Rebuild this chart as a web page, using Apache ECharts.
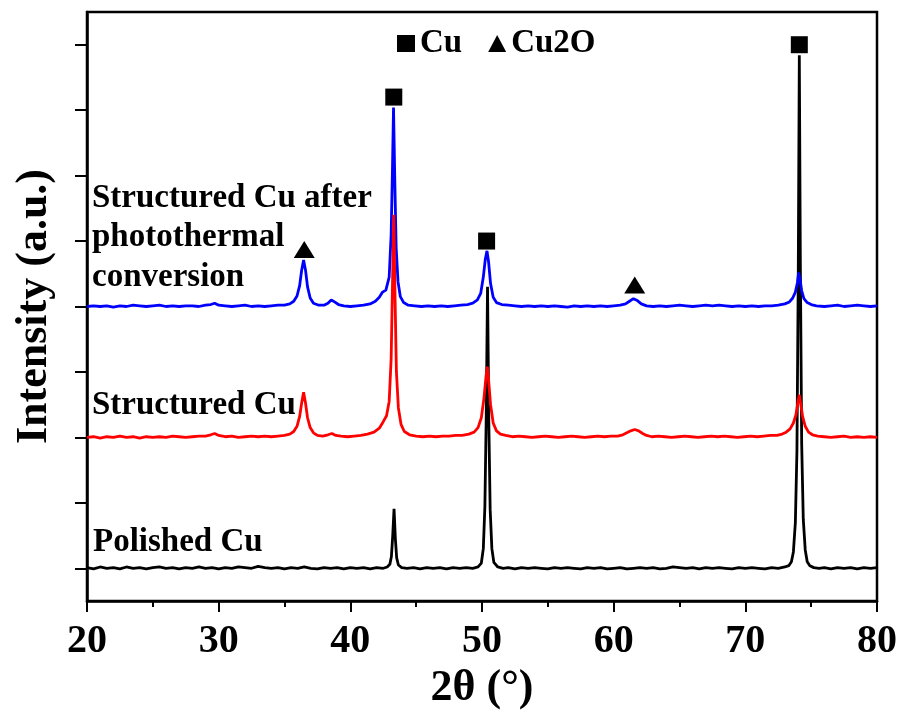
<!DOCTYPE html>
<html>
<head>
<meta charset="utf-8">
<script src="https://cdn.jsdelivr.net/npm/echarts@6/dist/echarts.min.js"></script>
<style>
  html, body { margin: 0; padding: 0; background: #fff; }
  #chart { width: 901px; height: 710px; }
</style>
</head>
<body>
<div id="chart"></div>
<script>
// XRD patterns, [2theta, intensity] with baseline at 0 (a.u., 1 = one y tick)
const polishedCu = [
  [20.0,0.01],[20.5,-0.01],[21.0,0.02],[21.5,0.0],[22.0,0.01],[22.5,-0.01],[23.0,0.02],[23.5,0.0],[24.0,0.01],[24.5,-0.01],
  [25.0,0.01],[25.5,0.02],[26.0,0.0],[26.5,0.01],[27.0,-0.01],[27.5,0.01],[28.0,0.0],[28.5,0.02],[29.0,0.0],[29.5,0.01],
  [30.0,-0.01],[30.5,0.01],[31.0,0.0],[31.5,0.02],[32.0,0.01],[32.5,0.0],[33.0,0.03],[33.5,0.01],[34.0,0.0],[34.5,0.01],
  [35.0,-0.01],[35.5,0.01],[36.0,0.0],[36.5,0.02],[37.0,0.0],[37.5,-0.01],[38.0,0.01],[38.5,0.0],[39.0,0.01],[39.5,-0.01],
  [40.0,0.01],[40.5,0.0],[41.0,0.01],[41.5,-0.01],[42.0,0.01],[42.5,0.0],[42.8,0.02],[43.0,0.06],[43.12,0.18],[43.22,0.5],
  [43.32,0.91],[43.42,0.45],[43.52,0.16],[43.65,0.05],[43.9,0.01],[44.3,0.0],[44.8,0.01],[45.3,-0.01],[45.8,0.01],[46.3,0.0],
  [46.8,0.01],[47.3,-0.01],[47.8,0.01],[48.3,0.0],[48.8,0.01],[49.3,0.0],[49.7,0.02],[49.95,0.08],[50.1,0.3],[50.22,0.95],
  [50.32,2.3],[50.42,4.3],[50.52,2.2],[50.62,0.9],[50.75,0.3],[50.9,0.09],[51.2,0.02],[51.6,0.0],[52.0,0.01],[52.5,-0.01],
  [53.0,0.01],[53.5,0.0],[54.0,0.01],[54.5,0.0],[55.0,-0.01],[55.5,0.01],[56.0,0.0],[56.5,0.01],[57.0,0.0],[57.5,-0.01],
  [58.0,0.01],[58.5,0.0],[59.0,0.01],[59.5,-0.01],[60.0,0.0],[60.5,0.01],[61.0,-0.01],[61.5,0.0],[62.0,0.01],[62.5,0.0],
  [63.0,0.01],[63.5,-0.01],[64.0,0.0],[64.5,0.02],[65.0,0.01],[65.5,0.0],[66.0,0.01],[66.5,-0.01],[67.0,0.01],[67.5,0.0],
  [68.0,0.01],[68.5,0.0],[69.0,-0.01],[69.5,0.01],[70.0,0.0],[70.5,0.01],[71.0,0.0],[71.5,-0.01],[72.0,0.01],[72.5,0.0],
  [73.0,0.02],[73.3,0.04],[73.5,0.1],[73.65,0.25],[73.8,0.7],[73.92,1.8],[74.02,4.5],[74.1,7.84],[74.18,4.6],[74.28,1.9],
  [74.4,0.75],[74.55,0.28],[74.7,0.1],[74.9,0.04],[75.2,0.01],[75.6,0.0],[76.0,0.01],[76.5,-0.01],[77.0,0.01],[77.5,0.0],
  [78.0,0.01],[78.5,-0.01],[79.0,0.01],[79.5,0.0],[80.0,0.01]
]
const structuredCu = [
  [20.0,0.0],[20.5,0.01],[21.0,-0.01],[21.5,0.01],[22.0,0.0],[22.5,0.02],[23.0,0.0],[23.5,0.01],[24.0,-0.01],[24.5,0.01],
  [25.0,0.0],[25.5,0.01],[26.0,0.0],[26.5,0.02],[27.0,0.01],[27.5,0.0],[28.0,0.01],[28.5,0.02],[29.0,0.02],[29.4,0.04],
  [29.7,0.06],[30.0,0.03],[30.5,0.01],[31.0,0.02],[31.5,0.0],[32.0,0.01],[32.5,0.02],[33.0,0.01],[33.5,0.02],[34.0,0.01],
  [34.5,0.02],[35.0,0.03],[35.4,0.05],[35.7,0.09],[35.95,0.17],[36.15,0.32],[36.3,0.52],[36.45,0.69],[36.6,0.52],[36.75,0.3],
  [36.95,0.15],[37.2,0.07],[37.5,0.03],[37.9,0.02],[38.3,0.04],[38.6,0.06],[38.9,0.03],[39.3,0.02],[39.8,0.01],[40.3,0.02],
  [40.8,0.03],[41.3,0.05],[41.8,0.08],[42.2,0.14],[42.5,0.24],[42.75,0.33],[42.95,0.55],[43.1,1.2],[43.2,2.3],[43.3,3.4],
  [43.4,2.1],[43.5,1.0],[43.65,0.45],[43.85,0.2],[44.1,0.09],[44.5,0.04],[45.0,0.02],[45.5,0.01],[46.0,0.02],[46.5,0.01],
  [47.0,0.02],[47.5,0.02],[48.0,0.03],[48.5,0.03],[49.0,0.05],[49.4,0.08],[49.7,0.15],[49.95,0.3],[50.15,0.6],[50.3,0.92],
  [50.4,1.08],[50.5,0.88],[50.65,0.5],[50.85,0.22],[51.1,0.1],[51.4,0.05],[51.8,0.03],[52.3,0.01],[52.8,0.02],[53.3,0.01],
  [53.8,0.0],[54.3,0.01],[54.8,0.02],[55.3,0.01],[55.8,0.0],[56.3,0.01],[56.8,0.02],[57.3,0.01],[57.8,0.0],[58.3,0.01],
  [58.8,0.02],[59.3,0.01],[59.8,0.02],[60.3,0.02],[60.7,0.04],[61.0,0.07],[61.3,0.1],[61.6,0.12],[61.9,0.1],[62.2,0.06],
  [62.5,0.03],[62.9,0.01],[63.4,0.02],[63.9,0.01],[64.4,0.0],[64.9,0.01],[65.4,0.02],[65.9,0.01],[66.4,0.0],[66.9,0.01],
  [67.4,0.02],[67.9,0.01],[68.4,0.02],[68.9,0.01],[69.4,0.0],[69.9,0.01],[70.4,0.02],[70.9,0.01],[71.4,0.02],[71.9,0.03],
  [72.4,0.03],[72.8,0.05],[73.1,0.08],[73.4,0.13],[73.65,0.22],[73.85,0.35],[74.0,0.55],[74.1,0.65],[74.2,0.52],[74.35,0.32],
  [74.55,0.17],[74.8,0.08],[75.1,0.04],[75.5,0.02],[76.0,0.01],[76.5,0.0],[77.0,0.01],[77.5,0.02],[78.0,0.0],[78.5,0.01],
  [79.0,0.0],[79.5,0.01],[80.0,0.0]
]
const photothermalCu = [
  [20.0,0.0],[20.5,0.01],[21.0,0.0],[21.5,0.01],[22.0,-0.01],[22.5,0.01],[23.0,0.0],[23.5,0.02],[24.0,0.01],[24.5,0.0],
  [25.0,0.01],[25.5,0.02],[26.0,0.0],[26.5,0.01],[27.0,0.0],[27.5,0.01],[28.0,0.01],[28.5,0.0],[29.0,0.02],[29.4,0.03],
  [29.7,0.05],[30.0,0.02],[30.5,0.01],[31.0,0.0],[31.5,0.01],[32.0,0.02],[32.5,0.0],[33.0,0.01],[33.5,0.0],[34.0,0.01],
  [34.5,0.02],[35.0,0.02],[35.4,0.04],[35.7,0.08],[35.95,0.16],[36.15,0.32],[36.3,0.55],[36.45,0.71],[36.6,0.55],[36.75,0.3],
  [36.95,0.13],[37.2,0.05],[37.6,0.02],[38.0,0.02],[38.3,0.05],[38.55,0.1],[38.8,0.07],[39.1,0.03],[39.5,0.01],[40.0,0.0],
  [40.5,0.01],[41.0,0.02],[41.5,0.04],[41.9,0.08],[42.2,0.14],[42.45,0.22],[42.7,0.25],[42.95,0.45],[43.1,1.1],[43.2,2.1],
  [43.28,3.04],[43.38,1.9],[43.48,0.9],[43.62,0.38],[43.8,0.15],[44.05,0.06],[44.4,0.02],[44.9,0.01],[45.4,0.0],[45.9,0.01],
  [46.4,0.0],[46.9,0.01],[47.4,0.0],[47.9,0.01],[48.4,0.02],[48.9,0.03],[49.3,0.05],[49.65,0.1],[49.9,0.2],[50.1,0.45],
  [50.25,0.72],[50.38,0.85],[50.5,0.68],[50.65,0.35],[50.85,0.14],[51.1,0.06],[51.5,0.03],[52.0,0.02],[52.5,0.01],[53.0,0.0],
  [53.5,0.01],[54.0,0.0],[54.5,0.01],[55.0,0.0],[55.5,0.01],[56.0,0.0],[56.5,-0.01],[57.0,0.01],[57.5,0.0],[58.0,0.01],
  [58.5,0.0],[59.0,0.01],[59.5,0.0],[60.0,0.01],[60.5,0.02],[60.9,0.04],[61.2,0.08],[61.5,0.12],[61.8,0.09],[62.1,0.04],
  [62.5,0.01],[63.0,0.0],[63.5,0.01],[64.0,0.0],[64.5,0.01],[65.0,0.02],[65.5,0.01],[66.0,0.0],[66.5,0.01],[67.0,0.02],
  [67.5,0.01],[68.0,0.02],[68.5,0.01],[69.0,0.0],[69.5,0.01],[70.0,0.0],[70.5,0.01],[71.0,0.0],[71.5,0.01],[72.0,0.01],
  [72.5,0.02],[73.0,0.04],[73.35,0.07],[73.6,0.13],[73.8,0.22],[73.95,0.36],[74.05,0.52],[74.15,0.42],[74.28,0.24],[74.45,0.12],
  [74.7,0.06],[75.0,0.03],[75.4,0.01],[76.0,0.0],[76.5,0.01],[77.0,0.02],[77.5,0.0],[78.0,0.01],[78.5,0.02],[79.0,0.01],
  [79.5,0.0],[80.0,0.01]
]
// vertical offset of each pattern (stacked plot)
const offsets = [0, 2, 4]
// peak markers
const cuMarks = [[43.3, 7.2], [50.35, 5.0], [74.1, 8.0]]
const cu2oMarks = [[36.5, 4.87], [61.6, 4.33]]
const yTicks = [0, 1, 2, 3, 4, 5, 6, 7, 8]

const FONT = '"Liberation Serif", "Times New Roman", serif'

function shift(arr, d) {
  return arr.map(p => [p[0], p[1] + d])
}

let mycharts = echarts.init(document.getElementById('chart'))
mycharts.setOption({
  animation: false,
  grid: {
    left: 87, right: 24, top: 12, bottom: 109,
    containLabel: false, outerBoundsMode: 'none',
    show: true, borderColor: '#000', borderWidth: 2.5
  },
  legend: {
    left: 397, top: 27, padding: 0,
    itemWidth: 18, itemHeight: 17, itemGap: 26,
    data: ['Cu', 'Cu2O'],
    itemStyle: { opacity: 1 },
    textStyle: { fontFamily: FONT, fontWeight: 'bold', fontSize: 33, color: '#000' }
  },
  xAxis: {
    type: 'value',
    min: 20, max: 80, interval: 10,
    name: '2θ (°)',
    nameLocation: 'middle',
    nameGap: 65,
    nameTextStyle: { fontFamily: FONT, fontWeight: 'bold', fontSize: 44, color: '#000' },
    splitLine: { show: false },
    axisLine: { show: true, onZero: false, lineStyle: { color: '#000', width: 2.5 } },
    axisTick: { show: true, inside: false, length: 11, lineStyle: { color: '#000', width: 2 } },
    minorTick: { show: true, splitNumber: 2, length: 6, lineStyle: { color: '#000', width: 2 } },
    axisLabel: { margin: 21, fontFamily: FONT, fontWeight: 'bold', fontSize: 40, color: '#000' }
  },
  yAxis: {
    type: 'value',
    min: -0.5, max: 8.5,
    name: 'Intensity (a.u.)',
    nameLocation: 'middle',
    nameGap: 30,
    nameTextStyle: { fontFamily: FONT, fontWeight: 'bold', fontSize: 44, color: '#000' },
    splitLine: { show: false },
    axisLine: { show: true, onZero: false, lineStyle: { color: '#000', width: 2.5 } },
    axisTick: { show: true, inside: false, length: 12, customValues: yTicks, lineStyle: { color: '#000', width: 2 } },
    axisLabel: { show: false }
  },
  graphic: [
    { type: 'text', left: 92, top: 182, style: { text: 'Structured Cu after', font: 'bold 33px ' + FONT, fill: '#000' } },
    { type: 'text', left: 92, top: 221, style: { text: 'photothermal', font: 'bold 33px ' + FONT, fill: '#000' } },
    { type: 'text', left: 92, top: 261, style: { text: 'conversion', font: 'bold 33px ' + FONT, fill: '#000' } },
    { type: 'text', left: 92, top: 389, style: { text: 'Structured Cu', font: 'bold 33px ' + FONT, fill: '#000' } },
    { type: 'text', left: 93, top: 526, style: { text: 'Polished Cu', font: 'bold 33px ' + FONT, fill: '#000' } }
  ],
  series: [
    {
      name: 'Polished Cu', type: 'line', data: shift(polishedCu, offsets[0]),
      showSymbol: false, symbol: 'none', lineStyle: { color: '#000', width: 2.8 }, z: 3
    },
    {
      name: 'Photothermal Cu', type: 'line', data: shift(photothermalCu, offsets[2]),
      showSymbol: false, symbol: 'none', lineStyle: { color: '#0000ff', width: 2.8 }, z: 4
    },
    {
      name: 'Structured Cu', type: 'line', data: shift(structuredCu, offsets[1]),
      showSymbol: false, symbol: 'none', lineStyle: { color: '#ff0000', width: 2.8 }, z: 5
    },
    {
      name: 'Cu', type: 'scatter', data: cuMarks,
      symbol: 'rect', symbolSize: [17, 17], itemStyle: { color: '#000', opacity: 1 }, z: 6
    },
    {
      name: 'Cu2O', type: 'scatter', data: cu2oMarks,
      symbol: 'triangle', symbolSize: [21, 17], itemStyle: { color: '#000', opacity: 1 }, z: 6
    }
  ]
})
</script>
</body>
</html>
